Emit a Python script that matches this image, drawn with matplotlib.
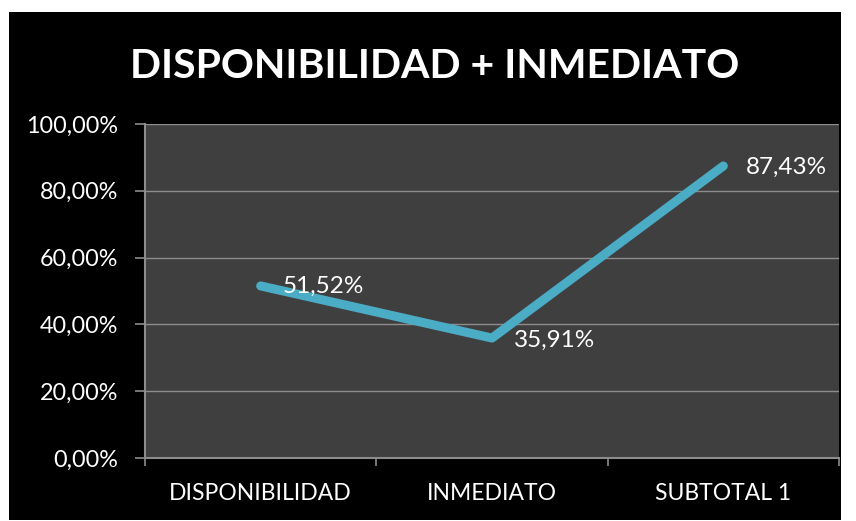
import numpy as np
import matplotlib.pyplot as plt
from matplotlib.patches import Rectangle
from matplotlib.ticker import FixedLocator, FuncFormatter

categories = ["DISPONIBILIDAD", "INMEDIATO", "SUBTOTAL 1"]
values = [51.52, 35.91, 87.43]
y_ticks = [0, 20, 40, 60, 80, 100]
title = "DISPONIBILIDAD + INMEDIATO"

plt.rcParams['font.family'] = ['Lato', 'DejaVu Sans']

fig = plt.figure(figsize=(8.56, 5.21), dpi=100)
fig.patch.set_facecolor("white")
fig.patches.append(Rectangle((9 / 856, 1 / 521), 832 / 856, 508 / 521,
                             transform=fig.transFigure, facecolor="black",
                             edgecolor="none", zorder=-10))

ax = fig.add_axes([145 / 856, 63 / 521, 694 / 856, 334 / 521])
ax.set_facecolor("#3f3f3f")

x = np.arange(len(categories))
ax.plot(x, values, color="#4bacc6", lw=6.5, solid_capstyle="round",
        solid_joinstyle="round", zorder=3)

def fmt(v):
    return f"{v:.2f}".replace(".", ",") + "%"

offsets = [(16, 0), (16, -2), (16, -1)]
for xi, v, off in zip(x, values, offsets):
    ax.annotate(fmt(v), (xi, v), xytext=off, textcoords="offset points",
                color="white", fontsize=17.5, ha="left", va="center", zorder=4)

ax.set_xlim(-0.5, 2.5)
ax.set_ylim(0, 100)
ax.set_yticks(y_ticks)
ax.yaxis.set_major_formatter(FuncFormatter(lambda v, p: fmt(v)))
ax.grid(axis="y", color="#8c8c8c", lw=1)
ax.set_axisbelow(True)

ax.xaxis.set_major_locator(FixedLocator([-0.5, 0.5, 1.5, 2.5]))
ax.xaxis.set_major_formatter(FuncFormatter(lambda v, p: ""))
ax.xaxis.set_minor_locator(FixedLocator(x))
ax.set_xticklabels(categories, minor=True)
ax.tick_params(axis="x", which="major", length=6, color="#8c8c8c", width=1.2)
ax.tick_params(axis="x", which="minor", length=0, pad=18, labelcolor="white", labelsize=16.5)
ax.tick_params(axis="y", length=7, color="#8c8c8c", width=1.2, labelcolor="white",
               labelsize=16.8, pad=12)

for s in ["top", "right"]:
    ax.spines[s].set_visible(False)
for s in ["left", "bottom"]:
    ax.spines[s].set_color("#8c8c8c")
    ax.spines[s].set_linewidth(1.5)

fig.text(435 / 856, 1 - 66 / 521, title, color="white", fontsize=29.5,
         fontweight="bold", ha="center", va="center")

fig.savefig("out.png", dpi=100, facecolor=fig.get_facecolor())
